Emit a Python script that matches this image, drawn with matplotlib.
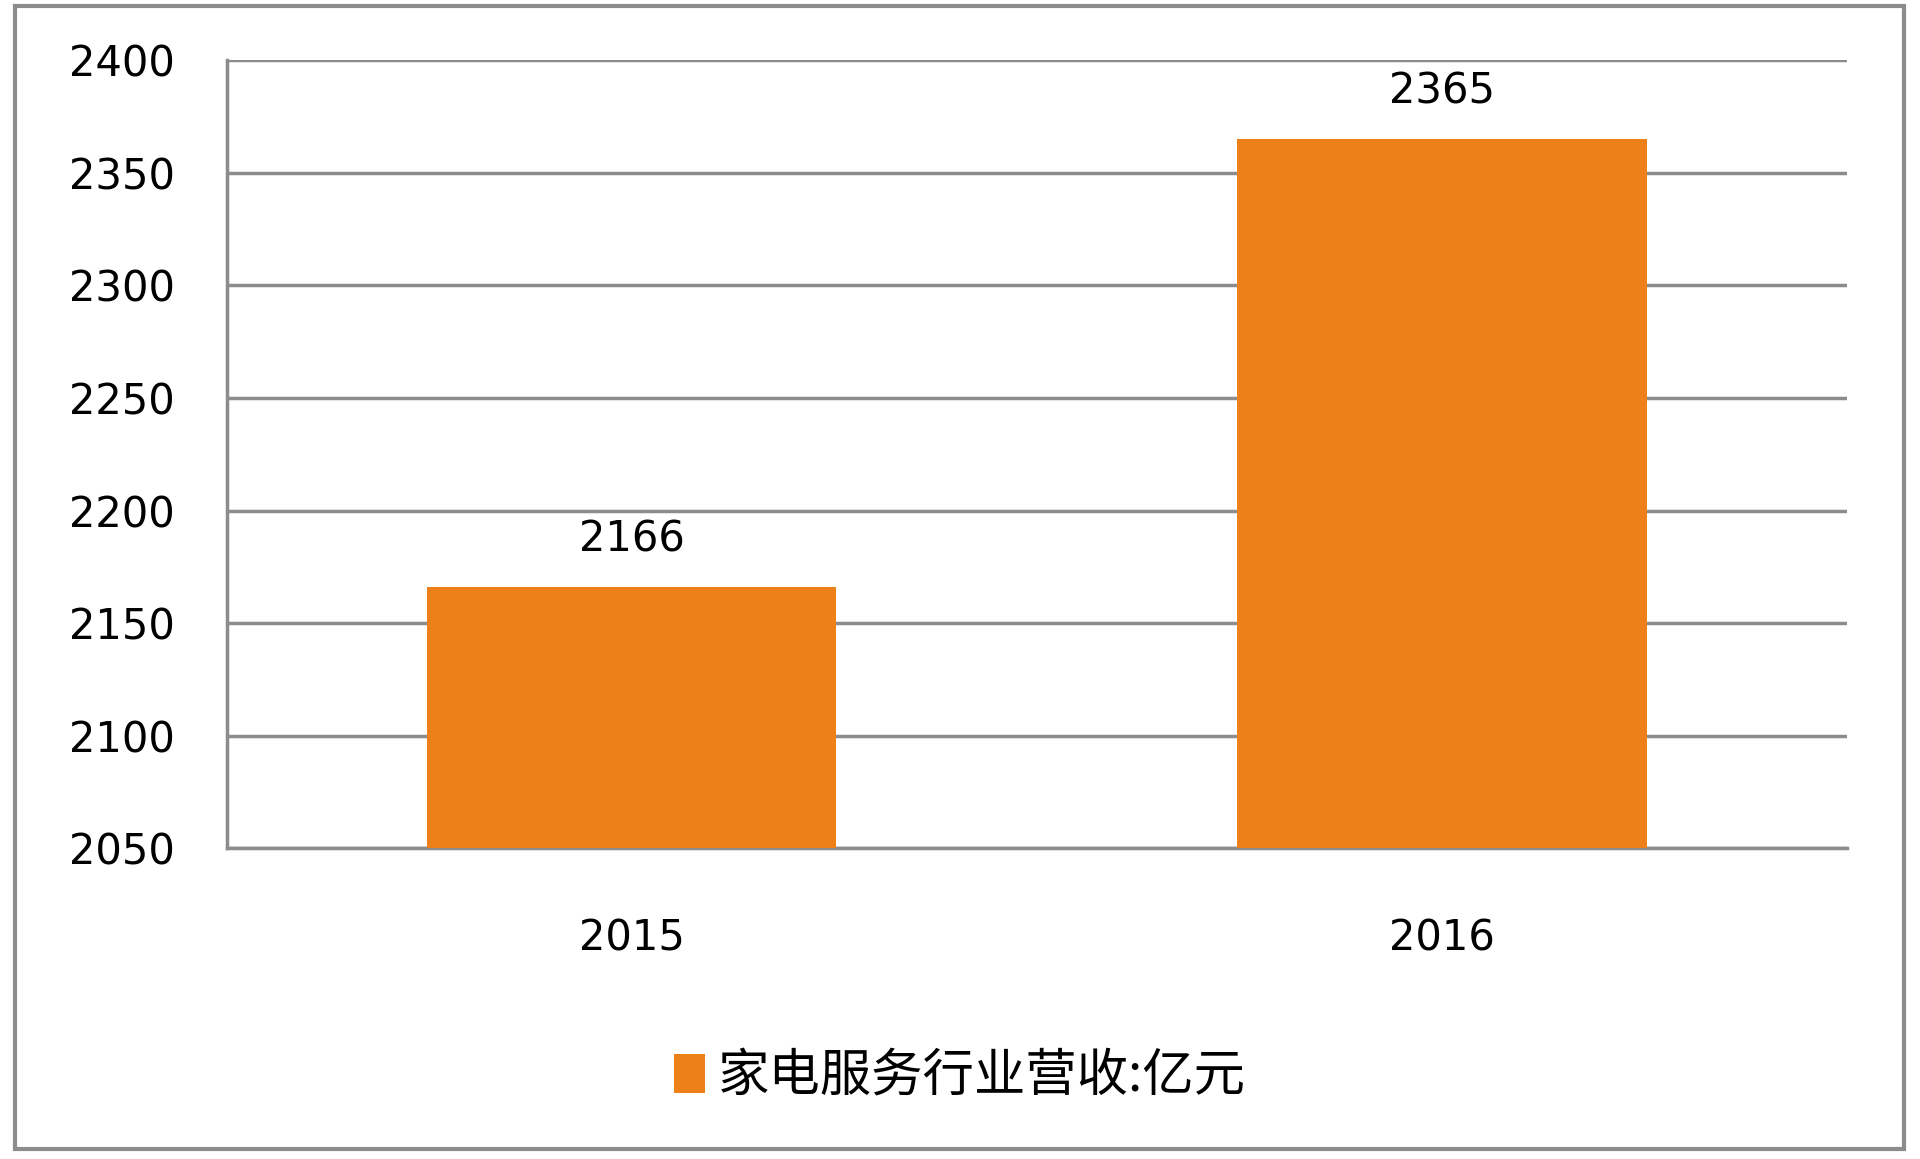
import matplotlib.pyplot as plt
from matplotlib.patches import Rectangle

plt.rcParams['font.family'] = ['DejaVu Sans']

years = ['2015', '2016']
revenue = [2166, 2365]
yticks = [2050, 2100, 2150, 2200, 2250, 2300, 2350, 2400]
legend_label = '家电服务行业营收:亿元'

bar_color = '#EE8019'
grid_color = '#8C8C8C'

fig = plt.figure(figsize=(19.2, 11.59), dpi=100)
ax = fig.add_axes([0.118, 0.268, 0.844, 0.680])

x = [0, 1]
bars = ax.bar(x, revenue, width=0.505, color=bar_color, zorder=3, label=legend_label)

ax.set_xlim(-0.5, 1.5)
ax.set_ylim(2050, 2400)
ax.set_yticks(yticks)
ax.set_xticks(x)
ax.set_xticklabels(years)
ax.grid(axis='y', color=grid_color, linewidth=2.5, zorder=0)
ax.tick_params(axis='y', length=0, pad=37, labelsize=30)
ax.tick_params(axis='x', length=0, pad=50, labelsize=30)

for s in ['top', 'right']:
    ax.spines[s].set_visible(False)
for s in ['left', 'bottom']:
    ax.spines[s].set_color(grid_color)
    ax.spines[s].set_linewidth(2.5)

for xi, v in zip(x, revenue):
    ax.annotate(str(v), (xi, v), xytext=(0, 34), textcoords='offset points',
                ha='center', va='center', fontsize=30)

leg = fig.legend(loc='center', bbox_to_anchor=(0.5, 0.071), frameon=False,
                 prop={'family': ['Noto Sans CJK SC', 'DejaVu Sans'], 'size': 37},
                 handlelength=0.6, handleheight=0.8, handletextpad=0.25)

fig.patches.append(Rectangle((0.0077, 0.009), 0.984, 0.9858, transform=fig.transFigure,
                             fill=False, edgecolor=grid_color, linewidth=3))

fig.savefig('out.png', dpi=100, facecolor='white')
